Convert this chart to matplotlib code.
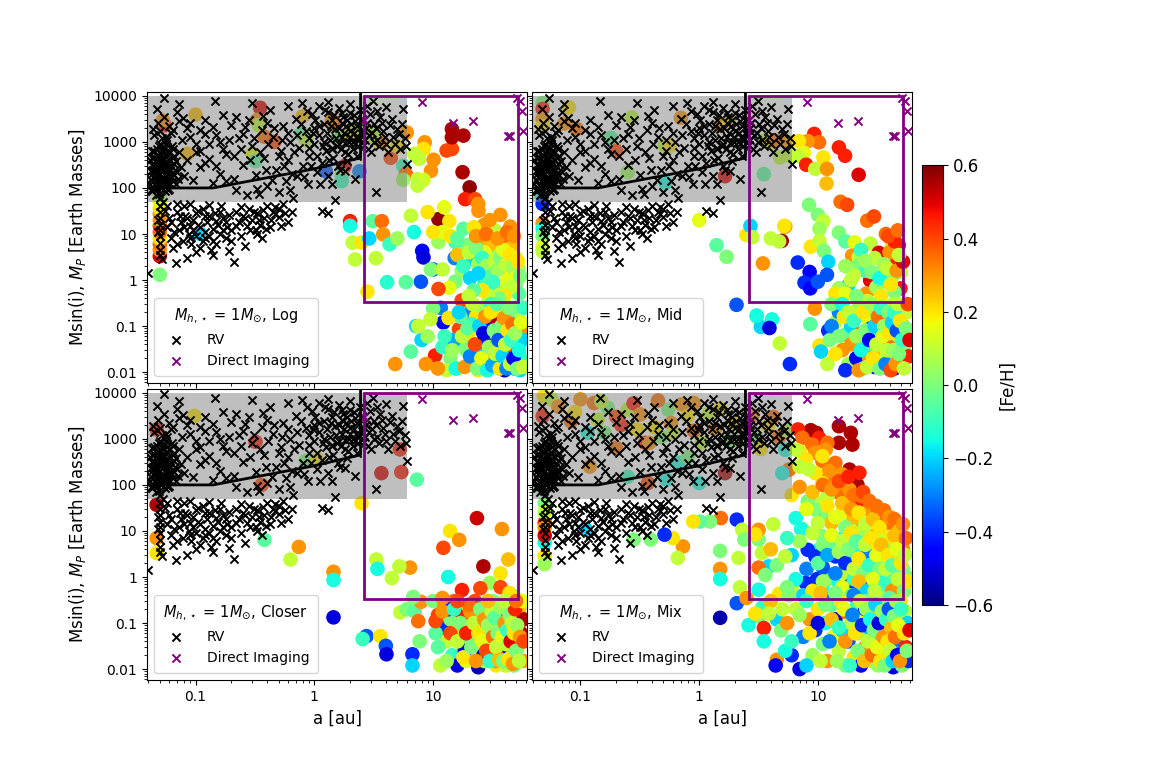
import numpy as np
import matplotlib
matplotlib.use('Agg')
import matplotlib.pyplot as plt
from matplotlib.patches import Rectangle
from matplotlib.ticker import FixedLocator, FixedFormatter

# Known RV planets: (a [au], Msin(i) [Earth masses])
rv_pts = [
    (0.042, 150), (0.043, 320), (0.044, 210), (0.045, 95), (0.045, 480), (0.046, 260), (0.047, 140),
    (0.047, 700), (0.048, 380), (0.049, 190), (0.05, 110), (0.05, 560), (0.051, 300), (0.052, 230),
    (0.052, 1200), (0.053, 160), (0.054, 420), (0.055, 85), (0.055, 270), (0.056, 900), (0.057, 200),
    (0.058, 350), (0.059, 130), (0.06, 600), (0.061, 250), (0.062, 1600), (0.063, 170), (0.064, 440),
    (0.066, 330), (0.068, 120), (0.07, 220), (0.044, 1900), (0.048, 2600), (0.05, 60), (0.046, 70),
    (0.053, 50), (0.041, 400), (0.043, 620), (0.049, 820), (0.051, 140), (0.057, 520), (0.06, 95),
    (0.065, 700), (0.058, 1100), (0.054, 3500), (0.047, 5200), (0.072, 2800), (0.07, 4400), (0.078, 3300),
    (0.044, 250), (0.046, 180), (0.05, 350), (0.055, 130), (0.059, 200), (0.042, 90), (0.048, 125),
    (0.041, 120), (0.042, 230), (0.043, 85), (0.043, 450), (0.044, 170), (0.045, 300), (0.045, 650),
    (0.046, 110), (0.046, 400), (0.047, 220), (0.047, 95), (0.048, 160), (0.048, 520), (0.049, 270),
    (0.049, 75), (0.05, 200), (0.05, 900), (0.051, 420), (0.051, 100), (0.052, 340), (0.052, 150),
    (0.053, 600), (0.053, 240), (0.054, 120), (0.054, 290), (0.055, 190), (0.055, 750), (0.056, 360),
    (0.056, 110), (0.057, 280), (0.058, 160), (0.058, 650), (0.059, 90), (0.06, 400), (0.06, 180),
    (0.061, 120), (0.062, 300), (0.063, 800), (0.064, 200), (0.065, 140), (0.066, 500), (0.067, 250),
    (0.069, 380), (0.071, 160), (0.073, 600), (0.075, 280), (0.077, 1100), (0.08, 180), (0.045, 1400),
    (0.05, 1700), (0.056, 1300), (0.06, 2200), (0.065, 1800),
    (0.05, 40), (0.05, 30), (0.05, 22), (0.05, 16), (0.05, 12), (0.05, 9), (0.05, 6.5), (0.05, 4.5),
    (0.05, 3.5), (0.052, 2.8), (0.048, 20), (0.048, 11),
    (0.04, 1.4), (0.055, 32), (0.058, 14), (0.06, 22), (0.062, 8), (0.065, 5), (0.068, 2.3), (0.07, 30),
    (0.072, 12), (0.075, 18), (0.078, 7), (0.08, 40), (0.082, 25), (0.085, 3), (0.088, 10), (0.09, 15),
    (0.092, 6), (0.095, 20), (0.1, 9), (0.1, 4), (0.105, 32), (0.11, 14), (0.115, 7), (0.12, 24),
    (0.12, 11), (0.125, 18), (0.13, 9), (0.135, 4.5), (0.14, 13), (0.145, 28), (0.15, 6), (0.155, 16),
    (0.16, 10), (0.165, 40), (0.17, 22), (0.18, 8), (0.185, 14), (0.19, 4.2), (0.2, 12), (0.21, 2.5),
    (0.22, 30), (0.23, 18), (0.24, 9), (0.25, 25), (0.27, 15), (0.28, 35), (0.3, 20), (0.32, 12),
    (0.33, 28), (0.35, 16), (0.36, 8), (0.38, 22), (0.4, 40), (0.42, 14), (0.45, 30), (0.47, 38),
    (0.47, 27), (0.5, 23), (0.55, 45), (0.6, 18), (0.65, 30), (1.15, 32), (1.3, 28), (1.5, 55),
    (0.07, 45), (0.09, 45), (0.13, 42), (0.33, 10), (0.26, 5.5), (0.14, 3.5),
    (0.058, 40), (0.062, 18), (0.066, 11), (0.07, 6), (0.074, 25), (0.08, 14), (0.085, 22), (0.09, 8),
    (0.095, 12), (0.1, 28), (0.105, 16), (0.11, 5), (0.115, 35), (0.12, 8), (0.13, 25), (0.14, 7),
    (0.15, 19), (0.16, 30), (0.17, 12), (0.18, 18), (0.19, 26), (0.2, 7), (0.22, 15), (0.24, 38),
    (0.26, 22), (0.29, 12), (0.31, 30), (0.34, 20), (0.37, 33), (0.39, 13), (0.43, 20), (0.5, 35),
    (0.52, 15), (0.57, 28),
    (0.054, 9200), (0.072, 6700), (0.147, 7800), (0.085, 2000), (0.09, 1300), (0.1, 900), (0.11, 650),
    (0.12, 1500), (0.13, 420), (0.14, 2100), (0.15, 300), (0.16, 1000), (0.17, 700), (0.18, 140),
    (0.2, 2300), (0.21, 500), (0.22, 90), (0.23, 1200), (0.25, 320), (0.27, 70), (0.28, 3000),
    (0.3, 800), (0.32, 190), (0.34, 75), (0.36, 1800), (0.38, 450), (0.4, 110), (0.42, 5000),
    (0.45, 1300), (0.48, 250), (0.5, 80), (0.52, 650), (0.55, 2200), (0.58, 140), (0.6, 400),
    (0.63, 1000), (0.66, 60), (0.7, 3200), (0.72, 180), (0.75, 750), (0.79, 7000), (0.8, 300),
    (0.85, 1700), (0.88, 120), (0.9, 500), (0.95, 4000), (1.0, 900), (1.05, 220), (1.1, 6000),
    (1.1, 1400), (1.15, 350), (1.2, 2500), (1.25, 650), (1.3, 4500), (1.3, 180), (1.35, 1100),
    (1.4, 3000), (1.45, 450), (1.5, 1900), (1.55, 800), (1.6, 5500), (1.65, 250), (1.7, 1300),
    (1.75, 3500), (1.8, 600), (1.85, 2200), (1.9, 380), (1.95, 1000), (2.0, 4200), (2.1, 700),
    (2.15, 1600), (2.2, 2800), (2.3, 500), (2.4, 1200), (2.5, 3200), (2.6, 850), (2.7, 2000),
    (2.8, 6000), (2.9, 1400), (3.0, 600), (3.1, 7800), (3.2, 2500), (3.3, 80), (3.4, 1100),
    (3.6, 3500), (3.8, 1700), (4.0, 900), (4.3, 2300), (4.6, 1300), (5.0, 1900), (5.3, 700),
    (5.6, 5200), (5.8, 1200), (6.0, 330), (2.2, 160), (1.8, 230), (1.4, 120), (0.65, 200),
    (0.4, 2600), (0.25, 1500), (0.16, 200), (0.11, 280), (0.095, 150), (1.2, 1000), (1.6, 900),
    (2.0, 1700), (1.0, 2000), (1.4, 700), (2.5, 1500), (0.9, 1200), (1.7, 2600), (2.2, 900),
    (0.085, 400), (0.09, 2600), (0.1, 600), (0.11, 1800), (0.12, 350), (0.13, 900), (0.14, 130),
    (0.15, 1400), (0.17, 3800), (0.18, 550), (0.19, 1100), (0.21, 160), (0.22, 3500), (0.24, 700),
    (0.26, 2100), (0.29, 400), (0.31, 1200), (0.33, 95), (0.35, 600), (0.37, 3600), (0.39, 250),
    (0.41, 900), (0.44, 150), (0.46, 2000), (0.5, 500), (0.53, 1100), (0.56, 300), (0.6, 1600),
    (0.62, 90), (0.68, 600), (0.72, 1400), (0.77, 2500), (0.82, 170), (0.86, 4800), (0.9, 750),
    (0.93, 300), (0.98, 1600), (1.02, 3000), (1.06, 500), (1.1, 2200), (1.12, 120), (1.18, 800),
    (1.22, 5000), (1.27, 1600), (1.32, 400), (1.37, 2200), (1.42, 750), (1.47, 3800), (1.52, 1200),
    (1.57, 300), (1.62, 2000), (1.67, 700), (1.72, 4200), (1.77, 1600), (1.82, 950), (1.88, 3000),
    (1.93, 550), (1.98, 1300), (2.05, 2500), (2.1, 1000), (2.17, 3800), (2.25, 1300), (2.3, 2200),
    (2.35, 800), (2.42, 5000), (2.55, 1800), (2.65, 1100), (2.75, 2600), (2.85, 700), (2.95, 4000),
    (3.05, 1600), (3.15, 1000), (3.3, 2000), (3.5, 800), (3.7, 2600), (3.9, 1300), (4.2, 600),
    (4.5, 3200), (4.8, 900), (5.2, 1500), (5.5, 2500), (5.9, 800), (3.4, 4800), (4.0, 5800),
    (2.0, 6500), (1.3, 7500), (0.6, 6000), (0.3, 7000), (0.12, 3000),
]

# Direct imaging planets
di_pts = [(2.6, 3000), (8.1, 7400), (14.8, 2600), (21.8, 2900), (43, 1340), (44.5, 1340),
          (51, 9000), (54, 7800), (56, 4700), (57, 1700)]

# detection limit curve
curve_a = [0.039, 0.14, 1.0, 2.45, 2.45]
curve_m = [100, 100, 260, 450, 12000]

# simulated planets: (a, M, [Fe/H])
log_pts = [
    (0.05, 1.3, 0.0), (0.05, 3.3, 0.5), (0.05, 4.5, 0.3), (0.05, 6, 0.35), (0.05, 8, 0.2), (0.05, 11, 0.35),
    (0.05, 15, 0.4), (0.05, 20, 0.3), (0.05, 27, 0.3), (0.05, 36, 0.2), (0.05, 50, 0.15), (0.05, 70, 0.05),
    (0.055, 2300, 0.45), (0.053, 2900, 0.3), (0.11, 10, -0.2), (0.1, 3900, 0.25), (0.085, 550, 0.25),
    (0.35, 5500, 0.5), (0.33, 3000, 0.3), (0.34, 2300, 0.1), (0.38, 1300, 0.35), (0.46, 1000, 0.4),
    (0.3, 550, 0.15), (0.32, 380, -0.05), (0.78, 1500, -0.05), (0.8, 3600, 0.25), (0.85, 1100, 0.1),
    (1.25, 230, -0.35), (1.8, 300, 0.5), (1.7, 190, 0.0), (1.7, 140, -0.1), (1.5, 2400, 0.45),
    (1.6, 1400, 0.0), (2.0, 1500, 0.2), (2.2, 1900, 0.15), (2.8, 1800, 0.05), (3.3, 1100, 0.15),
    (3.7, 1000, 0.35), (4.4, 450, 0.4), (5.6, 300, -0.1), (5.9, 200, 0.35), (5.6, 150, 0.05),
    (2.4, 230, -0.3), (1.4, 3000, 0.3), (3.2, 1400, 0.1), (5.0, 800, 0.2),
    (6.0, 1600, 0.3), (8.5, 980, 0.3), (8.3, 700, 0.2), (6.9, 550, 0.1), (7.6, 430, 0.1), (10.1, 410, 0.3),
    (9.6, 236, 0.3), (7.4, 155, 0.1), (8.3, 150, 0.12), (7.4, 112, 0.1), (13.0, 650, 0.4), (14.4, 700, 0.4),
    (14.4, 1260, 0.55), (18.0, 1370, 0.55), (14.4, 1900, 0.55), (17.7, 220, 0.55), (20.3, 103, 0.58),
    (18.6, 57, 0.45), (22.6, 57, 0.4), (24.1, 32, 0.3), (24, 45, 0.3), (36.9, 26, 0.3), (44.7, 14.5, 0.3),
    (27, 15.8, 0.3), (11.1, 21, 0.58), (12.4, 38, 0.15), (9.0, 30, 0.2), (13.7, 19, 0.2), (6.5, 25, 0.1),
    (2.0, 19, 0.45), (2.0, 15, -0.15), (2.1, 6.5, 0.1), (2.2, 2.8, 0.1), (2.5, 6.5, 0.2), (3.1, 19, -0.05),
    (3.7, 19, 0.35), (3.8, 9.8, 0.3), (2.9, 8, -0.2), (4.3, 6, -0.1), (5.0, 8, 0.05), (6.9, 11, -0.15),
    (4.1, 0.9, -0.12), (5.9, 0.9, -0.05), (2.8, 0.56, 0.2), (3.3, 3.0, 0.1),
    (8.1, 4.3, -0.45), (8.3, 3.1, -0.5), (10, 1.7, -0.35), (7.9, 0.92, -0.35), (15.2, 3.0, -0.3),
    (18, 13, -0.05), (19.4, 5.7, 0.0), (15.4, 6.7, -0.08), (17.4, 1.6, 0.05), (21.8, 2.8, -0.2),
    (35.5, 3.9, 0.05), (43.5, 2.4, 0.0), (44.7, 1.3, 0.1), (29.4, 1.1, 0.05), (34, 0.58, 0.0),
    (27, 0.93, -0.1), (20.5, 1.1, -0.2), (15.4, 0.93, 0.0), (13.7, 0.68, 0.15), (11.1, 6.7, 0.05),
    (37.5, 0.58, 0.1), (47, 0.58, 0.05), (9.6, 1.7, 0.0), (12, 1.7, 0.1), (11.1, 0.64, 0.4),
    (17.4, 0.36, 0.4), (12, 11, 0.15), (14, 9, 0.2), (25, 8, 0.3), (30, 6, 0.25), (40, 7, 0.35),
    (46, 5, 0.25), (33, 12, 0.1), (22, 14, 0.2), (27, 4, 0.15), (38, 2, 0.2), (50, 3, 0.1), (52, 1.8, 0.05),
    (24, 2.2, 0.05), (31, 1.6, 0.25), (42, 1.0, 0.15), (50, 0.8, 0.0), (10, 11, 0.2), (16, 3.5, 0.25),
    (20, 4, 0.1), (23, 5, 0.0), (26, 3, -0.1), (28, 2, 0.05), (30, 1.2, -0.05), (33, 2.6, 0.1),
    (35, 1.7, 0.05), (37, 3, 0.0), (39, 4.5, 0.15), (41, 2.2, 0.1), (44, 3.6, 0.2), (47, 1.9, 0.05),
    (49, 1.1, 0.15), (52, 2.5, 0.2), (54, 1.2, 0.0), (53, 0.5, -0.05), (45, 0.7, 0.1), (40, 0.45, 0.2),
    (36, 0.4, 0.0), (32, 0.9, -0.1), (29, 0.45, 0.1), (26, 0.6, 0.2), (24, 1.4, -0.2), (22, 0.6, -0.05),
    (20, 0.45, 0.1), (18, 2, -0.1), (23, 9, 0.3), (28, 10, 0.35), (35, 8, 0.3), (42, 11, 0.35),
    (48, 9, 0.3), (16, 8, -0.05), (30, 20, 0.3),
    (11.6, 0.25, -0.3), (21, 0.21, -0.3), (12.2, 0.12, -0.45), (7.2, 0.1, -0.2), (29.4, 0.12, -0.45),
    (46, 0.026, -0.5), (16.5, 0.086, 0.4), (10.4, 0.023, 0.45), (27.6, 0.061, 0.4), (36.9, 0.015, 0.4),
    (4.8, 0.015, 0.3), (8.7, 0.015, 0.3), (6.5, 0.028, -0.05), (8, 0.05, -0.2), (7.5, 0.1, 0.1),
    (9, 0.06, 0.05), (12, 0.035, -0.1), (14, 0.02, 0.0), (16, 0.012, 0.15), (18, 0.045, -0.05),
    (20, 0.07, 0.2), (22, 0.015, 0.05), (25, 0.03, -0.2), (28, 0.02, 0.25), (30, 0.012, -0.1),
    (32, 0.05, 0.1), (34, 0.09, -0.4), (36, 0.03, -0.3), (40, 0.011, -0.55), (42, 0.02, 0.0),
    (45, 0.06, -0.15), (48, 0.012, -0.2), (50, 0.04, 0.2), (52, 0.15, 0.1), (55, 0.02, -0.1),
    (56, 0.08, 0.3), (23, 0.16, 0.2), (26, 0.25, 0.05), (31, 0.3, -0.1), (38, 0.2, 0.15), (44, 0.13, -0.05),
    (48, 0.25, 0.0), (35, 0.11, 0.55), (27, 0.045, -0.4), (19, 0.03, 0.0), (15, 0.05, -0.25),
    (13, 0.011, 0.1), (24, 0.011, 0.2), (33, 0.018, 0.35), (45, 0.035, 0.4), (54, 0.011, -0.2),
    (57, 0.05, -0.2), (17, 0.16, -0.05), (21, 0.11, -0.1), (10, 0.24, 0.0), (9.5, 0.14, 0.1),
    (11, 0.012, 0.3), (12.5, 0.06, -0.1), (13.5, 0.15, 0.2), (14.5, 0.03, 0.05), (15.5, 0.012, -0.15),
    (16.5, 0.2, -0.2), (17.5, 0.06, 0.1), (18.5, 0.013, 0.3), (19.5, 0.09, -0.05), (20.5, 0.022, -0.3),
    (21.5, 0.3, 0.1), (22.5, 0.04, 0.4), (23.5, 0.012, 0.0), (24.5, 0.1, -0.2), (25.5, 0.02, 0.15),
    (26.5, 0.07, -0.5), (27.5, 0.16, 0.3), (28.5, 0.011, -0.15), (29.5, 0.035, 0.05), (30.5, 0.2, 0.2),
    (31.5, 0.014, -0.25), (32.5, 0.08, 0.0), (33.5, 0.025, 0.1), (34.5, 0.3, -0.05), (35.5, 0.05, -0.35),
    (36.5, 0.012, 0.2), (37.5, 0.1, 0.0), (38.5, 0.022, -0.2), (39.5, 0.15, 0.3), (40.5, 0.04, 0.1),
    (41.5, 0.012, -0.3), (42.5, 0.08, 0.2), (43.5, 0.25, 0.0), (44.5, 0.015, 0.1), (45.5, 0.05, -0.1),
    (46.5, 0.11, 0.35), (47.5, 0.02, -0.45), (49, 0.07, 0.05), (51, 0.012, 0.0), (53, 0.03, -0.15),
    (55, 0.12, 0.15), (57, 0.013, 0.1), (58, 0.25, -0.1),
]

mid_pts = [
    (0.048, 7000, 0.0), (0.048, 5200, 0.45), (0.048, 3150, 0.3), (0.048, 2200, 0.2), (0.047, 74, -0.15),
    (0.048, 45, -0.4), (0.048, 17, 0.3), (0.048, 13, -0.15), (0.048, 9, 0.0), (0.048, 5.2, 0.15),
    (0.048, 4.2, 0.1), (0.073, 2500, 0.3), (0.093, 1900, 0.35), (0.08, 5600, 0.2), (0.18, 1230, -0.05),
    (0.2, 640, 0.4), (0.25, 220, 0.05), (0.52, 130, -0.15), (0.27, 3400, 0.1), (0.51, 820, 0.1),
    (0.57, 820, 0.2), (0.7, 3330, 0.3), (1.65, 180, 0.5), (1.5, 2230, 0.3), (1.78, 2700, 0.2),
    (3.5, 200, -0.05), (3.6, 1080, 0.1), (3.9, 950, 0.2), (4.3, 1080, 0.35), (5.5, 1000, 0.3),
    (4.8, 460, 0.1), (5.9, 480, 0.1),
    (9.3, 1490, 0.45), (10.2, 980, 0.35), (8.2, 1040, 0.3), (6.9, 1040, 0.2), (7.6, 580, 0.15),
    (6.7, 500, 0.1), (7.95, 320, 0.45), (9.5, 260, 0.1), (11.1, 460, 0.2), (11.9, 260, 0.3),
    (11.8, 125, 0.25), (15, 760, 0.45), (16.9, 500, 0.45), (22, 193, 0.5), (15.5, 50, 0.35),
    (17.6, 43, 0.4), (8.4, 43, 0.0), (10, 26, 0.0), (11.1, 19, 0.1), (10.3, 13, 0.05), (26, 19.5, 0.35),
    (29.6, 24, 0.4), (15, 10.7, 0.0), (17, 6.9, -0.05), (5.3, 14.5, 0.3), (4.95, 7.1, 0.55),
    (4.7, 6.9, 0.1), (8.7, 5.3, 0.2), (10.3, 7, 0.1), (11.2, 4.3, 0.0), (12.2, 2.5, -0.2),
    (11.9, 1.3, -0.35), (6.75, 2.4, -0.4), (3.44, 2.3, 0.3), (8.5, 1.5, -0.45), (7.7, 0.88, -0.4),
    (8.6, 0.66, -0.45), (9.96, 0.92, -0.35), (20.4, 6.6, 0.15), (19.4, 3.4, 0.3), (22, 3.1, 0.1),
    (27.6, 6.2, 0.1), (32.5, 3.9, 0.5), (37.3, 10, 0.35), (42, 6, 0.2), (48, 5.7, 0.45), (46, 2.5, 0.45),
    (49.5, 0.66, 0.45), (27.5, 0.99, 0.5), (35, 1.6, 0.0), (22, 2.1, 0.0), (18, 0.77, -0.2),
    (15, 0.66, 0.05), (14, 0.51, 0.2), (17, 0.51, 0.15), (25.6, 0.51, 0.3), (37.3, 0.92, -0.05),
    (44, 0.55, 0.0), (30, 3, 0.1), (40, 4, 0.3), (36, 2.2, 0.05), (50, 1.5, 0.1), (25, 1.6, -0.1),
    (31, 0.7, 0.05), (42, 1.2, 0.0), (20, 1.3, 0.1), (5.2, 15, 0.2), (4.0, 8, 0.1), (2.5, 9.5, 0.2),
    (2.7, 15, -0.2), (2.8, 8.5, 0.1), (1.4, 5.7, -0.05), (1.7, 3.2, 0.0), (1.0, 20, 0.15),
    (17, 2, 0.05), (19, 1, 0.1), (23, 4.5, -0.1), (25, 2.6, 0.05), (28, 1.5, 0.0), (33, 1.1, -0.15),
    (38, 1.8, 0.1), (41, 0.8, 0.2), (46, 1.6, 0.3), (52, 2.5, 0.5), (26, 0.35, 0.1), (34, 0.45, 0.2),
    (21, 0.45, 0.0), (48, 3.5, 0.1), (44, 7, 0.45), (39, 9, 0.4), (47, 12, 0.35),
    (9.4, 0.24, 0.3), (8.6, 0.11, -0.05), (3.05, 0.16, -0.05), (4.1, 0.14, -0.15), (3.3, 0.096, -0.2),
    (3.9, 0.091, -0.5), (4.77, 0.042, 0.1), (5.8, 0.015, -0.4), (2.06, 0.29, -0.35), (3.04, 0.17, -0.15),
    (10.3, 0.038, 0.2), (10.6, 0.028, -0.2), (12.2, 0.08, -0.4), (12.6, 0.05, 0.0), (14, 0.12, 0.1),
    (15, 0.2, -0.3), (16, 0.03, 0.3), (17, 0.065, -0.05), (18, 0.015, 0.05), (19, 0.1, -0.2),
    (20, 0.045, 0.2), (21, 0.02, -0.45), (22, 0.25, 0.05), (23, 0.07, 0.35), (24, 0.012, 0.0),
    (25, 0.035, -0.1), (26, 0.15, 0.15), (27, 0.02, 0.3), (28, 0.09, -0.35), (29, 0.05, 0.05),
    (30, 0.013, -0.5), (31, 0.2, 0.0), (32, 0.03, 0.25), (33, 0.06, -0.15), (34, 0.11, 0.2),
    (35, 0.017, 0.1), (36, 0.04, -0.3), (37, 0.25, 0.05), (38, 0.08, 0.4), (39, 0.012, -0.2),
    (40, 0.15, -0.1), (41, 0.025, 0.0), (42, 0.05, 0.35), (43, 0.3, 0.1), (44, 0.012, -0.45),
    (45, 0.09, 0.05), (46, 0.03, 0.2), (47, 0.18, -0.2), (48, 0.06, 0.1), (50, 0.015, 0.15),
    (52, 0.1, 0.4), (54, 0.04, 0.0), (56, 0.2, 0.1), (58, 0.022, 0.45), (13, 0.3, 0.0), (16.5, 0.16, 0.2),
    (12, 0.015, 0.1), (13, 0.1, -0.3), (14, 0.025, 0.2), (15, 0.06, 0.0), (16, 0.3, -0.15),
    (17, 0.011, -0.4), (18, 0.2, 0.1), (19, 0.04, 0.3), (20, 0.13, -0.1), (21, 0.06, 0.05),
    (22, 0.011, 0.3), (23, 0.03, -0.15), (24, 0.2, 0.2), (25, 0.08, 0.0), (26, 0.013, 0.1),
    (27, 0.05, -0.45), (28, 0.3, 0.05), (29, 0.02, 0.2), (30, 0.1, -0.2), (31, 0.04, 0.1),
    (32, 0.16, 0.35), (33, 0.012, 0.0), (34, 0.25, -0.1), (35, 0.06, 0.15), (36, 0.1, 0.05),
    (37, 0.015, -0.3), (38, 0.03, 0.1), (39, 0.2, 0.0), (40, 0.07, 0.2), (41, 0.011, 0.4),
    (42, 0.12, -0.2), (43, 0.03, 0.05), (44, 0.2, -0.1), (45, 0.015, 0.3), (46, 0.08, -0.35),
    (47, 0.3, 0.1), (48, 0.025, 0.0), (49, 0.13, 0.2), (51, 0.05, -0.1), (53, 0.012, 0.1),
    (55, 0.09, 0.0), (57, 0.3, 0.4), (59, 0.05, 0.5),
]

closer_pts = [
    (0.098, 3160, 0.2), (0.047, 1600, 0.45), (0.32, 860, 0.45), (0.36, 100, 0.4), (0.85, 330, 0.0),
    (1.06, 360, 0.2), (5.25, 590, 0.45), (3.67, 180, 0.5), (5.4, 190, 0.45), (7.3, 130, -0.05),
    (0.047, 37, 0.55), (0.047, 7, 0.3), (0.047, 3.3, 0.2), (0.38, 6.4, -0.05), (0.74, 4.5, 0.3),
    (0.63, 2.4, 0.1), (1.45, 1.3, 0.3), (1.45, 0.86, -0.15), (1.45, 0.133, -0.5), (2.5, 40, 0.2),
    (23.4, 19, 0.52), (38, 11, 0.3), (13.9, 10, 0.2), (16.6, 6.4, 0.3), (12.2, 4.3, 0.4), (26.5, 1.7, 0.55),
    (43, 2.4, 0.25), (37, 1.2, 0.2), (30, 0.74, 0.05), (37, 0.6, 0.4), (25, 0.57, 0.4), (17.5, 0.52, 0.45),
    (13.4, 1.0, -0.15), (6.4, 1.6, 0.3), (5.2, 1.7, 0.1), (4.5, 0.95, 0.1), (3.33, 2.4, 0.1),
    (3.4, 1.5, -0.15), (48, 0.38, -0.1), (44, 0.45, 0.2),
    (5.3, 0.17, 0.1), (6.0, 0.2, 0.0), (7.0, 0.18, -0.05), (7.9, 0.29, 0.3), (6.8, 0.37, 0.0),
    (2.75, 0.052, -0.35), (2.55, 0.045, -0.1), (3.6, 0.052, 0.2), (4.0, 0.032, -0.35), (4.05, 0.021, -0.5),
    (6.7, 0.021, -0.4), (6.7, 0.012, -0.2), (7.5, 0.11, 0.35), (7.7, 0.04, 0.0),
    (10, 0.3, 0.0), (11, 0.15, 0.4), (12, 0.08, -0.4), (12.5, 0.25, 0.3), (13, 0.04, 0.1), (14, 0.12, 0.0),
    (14.5, 0.02, -0.1), (15, 0.3, 0.35), (15.5, 0.06, 0.2), (16, 0.012, -0.5), (17, 0.18, 0.45),
    (17.5, 0.035, 0.05), (18, 0.09, 0.3), (19, 0.015, 0.15), (19.5, 0.25, 0.1), (20, 0.05, -0.05),
    (21, 0.13, 0.4), (22, 0.02, 0.2), (22.5, 0.3, 0.4), (23, 0.07, 0.0), (24, 0.011, -0.55),
    (24.5, 0.17, 0.3), (25, 0.035, 0.1), (26, 0.1, 0.55), (27, 0.015, 0.05), (28, 0.22, 0.4),
    (29, 0.05, -0.1), (30, 0.12, 0.15), (31, 0.02, 0.3), (32, 0.3, 0.0), (33, 0.08, 0.05),
    (34, 0.012, 0.2), (35, 0.17, 0.35), (36, 0.04, -0.35), (37, 0.1, 0.1), (38, 0.02, 0.4),
    (39, 0.25, 0.2), (40, 0.06, 0.0), (41, 0.012, 0.1), (42, 0.14, 0.5), (43, 0.03, -0.45),
    (44, 0.09, 0.2), (45, 0.018, 0.05), (46, 0.2, 0.05), (47, 0.05, 0.3), (48, 0.012, 0.0),
    (50, 0.11, 0.45), (52, 0.03, 0.1), (53, 0.2, 0.25), (55, 0.06, 0.55), (57, 0.015, 0.3),
    (58, 0.12, 0.55), (11.5, 0.012, 0.1), (13.5, 0.2, -0.4), (18.5, 0.025, -0.45), (26.5, 0.02, -0.5),
    (33.5, 0.015, 0.3), (20.5, 0.18, 0.3), (10.5, 0.06, -0.05),
    (10.5, 0.11, 0.4), (11, 0.03, -0.05), (12, 0.18, 0.3), (13, 0.015, 0.05), (14, 0.06, 0.4),
    (15, 0.2, -0.1), (16, 0.04, 0.1), (17, 0.1, 0.0), (18, 0.018, 0.2), (19, 0.06, 0.45),
    (20, 0.25, 0.35), (21, 0.03, 0.0), (22, 0.1, 0.1), (23, 0.015, 0.3), (24, 0.06, 0.2),
    (25, 0.2, 0.0), (26, 0.04, 0.15), (27, 0.12, 0.3), (28, 0.025, 0.4), (29, 0.09, 0.05),
    (30, 0.015, -0.1), (31, 0.18, 0.1), (32, 0.05, 0.35), (33, 0.13, -0.05), (34, 0.03, 0.1),
    (35, 0.06, 0.0), (36, 0.016, 0.25), (37, 0.22, 0.05), (38, 0.05, 0.15), (39, 0.015, 0.0),
    (40, 0.1, 0.3), (41, 0.035, 0.1), (42, 0.07, -0.1), (43, 0.016, 0.2), (44, 0.15, 0.0),
    (45, 0.04, 0.5), (46, 0.1, 0.1), (47, 0.013, 0.3), (48, 0.06, 0.2), (49, 0.2, 0.45),
    (50, 0.025, 0.0), (51, 0.09, 0.05), (53, 0.015, 0.1), (54, 0.05, 0.3), (56, 0.3, 0.15),
    (58, 0.04, 0.4), (12, 0.35, 0.3), (16, 0.3, 0.4), (29, 0.3, 0.25), (40, 0.3, 0.1), (50, 0.3, 0.35),
]

mix_pts = [
    # points inside the grey box
    (0.049, 8500, 0.2), (0.057, 7200, 0.1), (0.048, 3100, 0.45), (0.1, 7200, 0.3), (0.13, 6000, 0.35),
    (0.17, 4700, 0.0), (0.25, 4300, 0.1), (0.28, 5900, 0.45), (0.32, 3400, 0.3), (0.55, 4300, 0.0),
    (0.71, 5600, 0.3), (0.083, 2400, 0.35), (0.115, 1350, -0.15), (0.16, 1350, 0.0), (0.2, 640, 0.35),
    (0.35, 820, 0.45), (0.38, 820, 0.3), (0.48, 1100, 0.0), (0.58, 2200, 0.3), (0.8, 3100, 0.2),
    (1.05, 820, 0.1), (1.36, 1600, 0.3), (1.76, 900, 0.0), (2.0, 2200, 0.2), (2.4, 1900, 0.3),
    (3.0, 1100, 0.0), (3.8, 1900, 0.2), (4.7, 1100, 0.35), (5.3, 580, -0.15), (5.7, 215, 0.35),
    (5.0, 180, -0.15), (1.65, 180, 0.55), (0.66, 300, -0.15), (0.53, 130, -0.15), (0.37, 110, 0.4),
    (1.0, 110, -0.15), (0.046, 93, 0.0), (0.14, 2600, 0.1), (0.22, 2000, 0.45), (0.42, 1800, 0.2),
    (1.2, 3500, 0.1), (0.9, 1500, 0.35), (2.8, 3200, 0.3),
    (0.065, 5000, 0.3), (0.09, 3800, 0.2), (0.15, 6500, 0.1), (0.2, 3000, 0.4), (0.3, 1600, 0.2),
    (0.45, 6800, 0.35), (0.6, 1300, 0.1), (0.9, 6000, 0.3), (1.5, 4500, 0.2), (2.2, 900, 0.05),
    (3.3, 600, 0.2), (4.2, 3000, 0.35), (5.5, 1500, 0.1), (0.8, 400, 0.0), (0.12, 250, 0.3),
    (0.25, 150, -0.1),
    (0.05, 40, 0.0), (0.05, 15, 0.45), (0.05, 12, 0.3), (0.05, 5.6, -0.15), (0.05, 2.8, 0.2),
    (0.05, 1.9, 0.05), (0.05, 25, 0.1), (0.05, 8, 0.5), (0.11, 11, -0.2),
    # outside the grey box
    (8.7, 1540, 0.55), (9.7, 1350, 0.55), (15, 1880, 0.55), (15, 820, 0.55), (18.9, 1350, 0.55),
    (19.5, 750, 0.55), (18.4, 215, 0.55), (21.5, 100, 0.55), (10.9, 21, 0.55), (6.8, 1600, 0.45),
    (10.2, 1050, 0.45), (22.3, 183, 0.45), (19.5, 52, 0.45), (17.7, 27, 0.45), (23.5, 37, 0.45),
    (7.4, 1050, 0.35), (8.95, 750, 0.35), (12, 820, 0.35), (10.9, 330, 0.35), (14, 300, 0.35),
    (12, 130, 0.35), (15, 67, 0.35), (16.6, 52, 0.35), (23.5, 57, 0.35), (30.8, 23, 0.35), (34, 23, 0.35),
    (38, 15, 0.35), (45, 13, 0.35), (48, 5.5, 0.35), (45, 2.8, 0.35), (11.6, 580, 0.3), (9.5, 500, 0.3),
    (12.4, 200, 0.3), (15.9, 170, 0.3), (14.6, 110, 0.3), (18.4, 79, 0.3), (27, 29, 0.3), (29.5, 12.6, 0.3),
    (42, 19, 0.3), (21, 13, 0.3), (7, 540, 0.2), (7.9, 355, 0.2), (10.9, 420, 0.2), (9.5, 180, 0.2),
    (10.9, 110, 0.2), (17, 35, 0.2), (27, 15, 0.2), (34, 9, 0.2), (42, 6.5, 0.2), (38, 3.3, 0.2),
    (48, 1.4, 0.2), (6.5, 580, 0.1), (8.4, 215, 0.1), (7, 250, 0.1), (12, 57, 0.1), (10.2, 41, 0.1),
    (18.4, 15, 0.1), (23.5, 10, 0.1), (32, 6.5, 0.1), (40, 2.8, 0.1), (32.8, 1.4, 0.1), (27, 0.74, 0.1),
    (48, 0.63, 0.1), (8.2, 44, 0.0), (9.5, 29, 0.0), (12, 21, 0.0), (7.4, 11, 0.0), (10.9, 7.7, 0.0),
    (15, 6.5, 0.0), (22, 3.9, 0.0), (29, 2.0, 0.0), (18.4, 1.5, 0.0), (40, 1.1, 0.0), (48, 0.53, 0.0),
    (18.4, 0.53, 0.0), (12, 0.9, 0.0), (6.5, 19, -0.15), (7.2, 11, -0.15), (10.2, 3.9, -0.15),
    (17, 7.7, -0.15), (20.8, 2.8, -0.15), (23.5, 1.4, -0.15), (34, 0.74, -0.15), (15, 0.74, -0.15),
    (10.9, 0.63, -0.15), (23.5, 0.53, -0.15), (8.2, 3.9, -0.4), (9.5, 2.8, -0.4), (7.9, 0.74, -0.4),
    (9.8, 0.9, -0.4), (14, 2.8, -0.4), (18.4, 0.63, -0.4), (23.5, 0.9, -0.4), (12, 0.27, -0.4),
    (18.9, 1.1, 0.55), (29, 4.6, 0.45), (13, 15, 0.25), (16, 25, 0.15), (20, 20, 0.25), (25, 8, 0.05),
    (30, 5, 0.2), (36, 4, 0.0), (44, 8, 0.25), (52, 4, 0.3), (52, 1.5, 0.0), (26, 3, -0.3),
    (13, 4.5, -0.05), (11, 1.6, -0.35), (16, 1.2, 0.1), (20, 0.9, -0.1), (36, 2, 0.1), (45, 1, -0.05),
    (6, 60, 0.2), (7, 90, 0.3), (8, 30, 0.15), (9, 70, 0.25), (10, 15, 0.1), (11, 100, 0.35),
    (12, 35, 0.2), (13, 80, 0.3), (14, 20, 0.15), (15, 120, 0.4), (16, 40, 0.25), (17, 12, 0.0),
    (18, 150, 0.45), (19, 30, 0.3), (20, 60, 0.35), (22, 25, 0.2), (24, 70, 0.4), (25, 14, 0.1),
    (27, 45, 0.35), (29, 18, 0.25), (31, 35, 0.35), (33, 12, 0.2), (36, 28, 0.35), (40, 20, 0.3),
    (44, 18, 0.35), (48, 10, 0.25), (52, 14, 0.3), (55, 7, 0.35),
    (6, 3, -0.2), (7, 6, 0.05), (8, 1.5, -0.3), (9, 9, 0.1), (10, 2, -0.05), (11, 5, 0.0),
    (12, 3, -0.25), (13, 8, 0.15), (14, 1.2, -0.3), (15, 3.5, 0.05), (16, 6, 0.1), (17, 2, -0.4),
    (18, 4, 0.0), (19, 9, 0.2), (20, 1.5, 0.1), (21, 6, -0.05), (22, 2.5, 0.2), (24, 1.2, 0.0),
    (25, 5, 0.1), (27, 1.8, -0.1), (28, 7, 0.2), (31, 3, 0.15), (33, 1.5, 0.0), (34, 5, 0.25),
    (37, 1.5, 0.1), (39, 3, 0.2), (42, 1.8, -0.05), (46, 4, 0.15), (50, 2, 0.2), (54, 3, 0.1),
    (56, 1, 0.0),
    (6, 0.6, 0.1), (7.5, 0.4, -0.2), (9, 0.5, 0.2), (11, 0.8, 0.05), (13, 0.35, -0.3), (16, 0.6, 0.15),
    (19, 0.4, 0.0), (22, 0.8, 0.25), (26, 0.5, -0.2), (29, 0.9, 0.15), (33, 0.4, 0.05), (37, 0.7, -0.1),
    (42, 0.5, 0.3), (47, 0.9, 0.1), (53, 0.5, 0.0), (57, 0.8, 0.2),
    (3.16, 6.5, 0.0), (3.16, 10.6, 0.3), (2.96, 8.4, 0.2), (3.37, 3.3, 0.1), (3.85, 1.7, -0.2),
    (4.5, 1.8, 0.0), (5.3, 2.8, 0.1), (3.16, 0.53, -0.15), (4.7, 0.43, 0.2), (6.5, 0.9, -0.15),
    (5.7, 0.4, 0.0), (3.16, 1.6, 0.35), (3.6, 1.1, 0.0), (4.2, 14, 0.1), (5.5, 7, -0.1), (4.0, 4, 0.25),
    (2.07, 17.6, -0.4), (1.52, 19, 0.35), (1.5, 1.5, 0.3), (1.5, 0.9, -0.15), (1.5, 3.7, 0.0),
    (1.23, 16, 0.0), (1.01, 16, -0.05), (0.89, 16, 0.2), (0.73, 4.6, 0.3), (0.66, 2.6, 0.1), (0.6, 7, 0.2),
    (0.51, 8.3, -0.4), (0.39, 6.5, 0.0), (0.28, 6.5, 0.0), (2.14, 2.6, 0.1), (2.3, 10.6, 0.1),
    (2.4, 6.5, 0.0), (2.07, 0.27, -0.35), (1.5, 0.13, -0.55),
    (2.2, 0.6, 0.1), (2.5, 0.35, 0.3), (3.4, 0.22, -0.1), (4, 0.3, 0.25), (4.5, 0.12, -0.2),
    (5, 0.2, 0.1), (5.5, 0.6, 0.0),
    (3.2, 0.14, 0.0), (3.5, 0.078, 0.45), (3.5, 0.04, -0.15), (4.5, 0.016, 0.3), (4.4, 0.012, -0.45),
    (6, 0.02, -0.4), (7, 0.01, -0.5), (5.3, 0.025, -0.15), (2.6, 0.09, -0.15), (2.96, 0.16, 0.2),
    (3.85, 0.16, 0.1), (4.9, 0.069, 0.0), (6.5, 0.2, 0.1), (7.5, 0.05, -0.3), (8, 0.3, -0.1),
    (8.5, 0.12, 0.3), (9, 0.02, 0.05), (9.5, 0.07, -0.4), (10, 0.2, 0.2), (11, 0.035, 0.0),
    (11.5, 0.1, -0.15), (12, 0.015, 0.3), (13, 0.25, -0.05), (13.5, 0.05, 0.15), (14, 0.12, -0.5),
    (15, 0.025, 0.1), (15.5, 0.3, 0.2), (16, 0.07, -0.2), (17, 0.012, 0.0), (17.5, 0.17, 0.35),
    (18, 0.04, -0.35), (19, 0.1, 0.1), (20, 0.018, 0.2), (21, 0.22, -0.1), (22, 0.06, 0.05),
    (23, 0.012, -0.45), (24, 0.14, 0.15), (25, 0.03, 0.3), (26, 0.3, 0.0), (27, 0.08, -0.25),
    (28, 0.015, 0.1), (29, 0.18, 0.25), (30, 0.045, -0.1), (31, 0.1, 0.45), (32, 0.012, 0.05),
    (33, 0.25, 0.1), (34, 0.06, -0.2), (35, 0.02, 0.2), (36, 0.13, -0.4), (37, 0.035, 0.0),
    (38, 0.3, 0.15), (39, 0.08, 0.3), (40, 0.014, -0.1), (41, 0.17, 0.0), (42, 0.05, 0.25),
    (43, 0.011, -0.5), (44, 0.22, -0.15), (45, 0.09, 0.1), (46, 0.025, 0.35), (47, 0.14, 0.05),
    (48, 0.04, -0.3), (50, 0.3, 0.2), (51, 0.012, 0.0), (52, 0.07, -0.05), (54, 0.18, 0.1),
    (55, 0.03, 0.45), (57, 0.1, -0.2), (58, 0.015, -0.4), (10.5, 0.45, 0.25), (20, 0.4, -0.3),
    (30, 0.5, 0.1), (40, 0.35, -0.05), (14, 0.45, 0.0), (25, 0.2, -0.45),
    (5.5, 0.1, 0.3), (6, 0.04, -0.1), (7, 0.15, 0.05), (8, 0.012, -0.2), (8.5, 0.06, 0.2),
    (10, 0.1, -0.5), (10.5, 0.015, 0.1), (11.5, 0.25, 0.0), (12.5, 0.04, -0.3), (13, 0.12, 0.25),
    (14.5, 0.015, 0.05), (15, 0.08, -0.1), (16.5, 0.2, 0.15), (17, 0.04, 0.3), (18.5, 0.012, -0.1),
    (19.5, 0.15, -0.3), (20.5, 0.06, 0.2), (21.5, 0.025, 0.0), (22.5, 0.3, 0.1), (23.5, 0.09, -0.4),
    (24.5, 0.015, 0.25), (25.5, 0.2, 0.05), (26.5, 0.04, 0.1), (27.5, 0.12, -0.15), (28.5, 0.02, 0.35),
    (29.5, 0.07, 0.0), (30.5, 0.25, -0.2), (31.5, 0.03, 0.15), (32.5, 0.1, -0.5), (33.5, 0.015, 0.2),
    (34.5, 0.18, 0.05), (35.5, 0.05, 0.3), (36.5, 0.012, 0.0), (37.5, 0.12, -0.1), (38.5, 0.04, 0.2),
    (39.5, 0.2, -0.35), (40.5, 0.025, 0.1), (41.5, 0.08, 0.25), (42.5, 0.015, -0.2), (43.5, 0.14, 0.0),
    (44.5, 0.05, 0.35), (45.5, 0.3, 0.05), (46.5, 0.02, -0.45), (47.5, 0.09, 0.15), (49, 0.015, 0.3),
    (50, 0.2, -0.1), (53, 0.06, 0.2), (56, 0.025, 0.0), (59, 0.07, 0.5),
]

panels = [('Log', log_pts), ('Mid', mid_pts), ('Closer', closer_pts), ('Mix', mix_pts)]

fig = plt.figure(figsize=(11.76, 7.62), dpi=100)
left0, bot0 = 0.125, 0.1076
w, h = 0.3233, 0.3817
gx, gy = 0.004, 0.008
positions = [(left0, bot0 + h + gy), (left0 + w + gx, bot0 + h + gy),
             (left0, bot0), (left0 + w + gx, bot0)]

xlim = (0.039, 62)
ylim = (0.0058, 12000)
rv_a, rv_m = zip(*rv_pts)
di_a, di_m = zip(*di_pts)

for i, ((name, pts), pos) in enumerate(zip(panels, positions)):
    ax = fig.add_axes([pos[0], pos[1], w, h])
    a, m, feh = zip(*pts)
    sc = ax.scatter(a, m, c=feh, cmap='jet', vmin=-0.6, vmax=0.6, s=90, zorder=1)
    # grey region of known RV planets
    ax.add_patch(Rectangle((xlim[0], 50), 6 - xlim[0], 10000 - 50, facecolor='gray',
                           alpha=0.5, edgecolor='none', zorder=2))
    ax.scatter(rv_a, rv_m, marker='x', color='black', s=34, linewidths=1.4, zorder=3, label='RV')
    ax.scatter(di_a, di_m, marker='x', color='purple', s=34, linewidths=1.4, zorder=3,
               label='Direct Imaging')
    ax.plot(curve_a, curve_m, color='black', lw=2, zorder=4)
    ax.add_patch(Rectangle((2.6, 0.33), 52 - 2.6, 10000 - 0.33, fill=False,
                           edgecolor='purple', lw=2, zorder=5))
    ax.set_xscale('log')
    ax.set_yscale('log')
    ax.set_xlim(*xlim)
    ax.set_ylim(*ylim)
    ax.yaxis.set_major_locator(FixedLocator([0.01, 0.1, 1, 10, 100, 1000, 10000]))
    ax.yaxis.set_major_formatter(FixedFormatter(['0.01', '0.1', '1', '10', '100', '1000', '10000']))
    ax.xaxis.set_major_locator(FixedLocator([0.1, 1, 10]))
    ax.xaxis.set_major_formatter(FixedFormatter(['0.1', '1', '10']))
    ax.tick_params(labelsize=10)
    if i % 2 == 1:
        ax.tick_params(labelleft=False)
    else:
        ax.set_ylabel('Msin(i), $M_P$ [Earth Masses]', fontsize=12)
    if i < 2:
        ax.tick_params(labelbottom=False)
    else:
        ax.set_xlabel('a [au]', fontsize=12)
    ax.legend(loc='lower left', title=r'$M_{h,\star}$ = 1$M_{\odot}$, ' + name,
              fontsize=10, title_fontsize=10.5, borderpad=0.6, handletextpad=1.2)

cax = fig.add_axes([0.784, 0.206, 0.018, 0.577])
cb = fig.colorbar(sc, cax=cax)
cb.set_ticks([-0.6, -0.4, -0.2, 0.0, 0.2, 0.4, 0.6])
cb.ax.tick_params(labelsize=12)
cb.set_label('[Fe/H]', fontsize=12)

fig.savefig('out.png', dpi=100)
